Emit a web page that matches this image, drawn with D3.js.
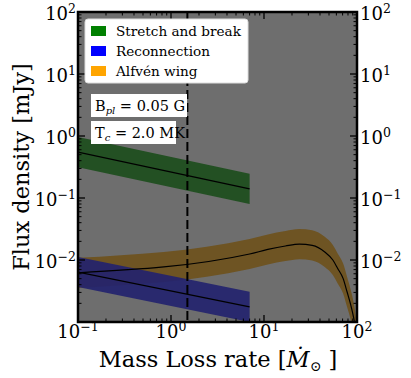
<!DOCTYPE html>
<html>
<head>
<meta charset="utf-8">
<script src="https://cdn.jsdelivr.net/npm/d3@7"></script>
<style>
  body { margin: 0; background: #fff; }
  svg text { font-family: "DejaVu Serif", serif; fill: #000; }
</style>
</head>
<body>
<svg id="chart"></svg>
<script>
// values
const stretchX = [0.1, 7];
const stretchY = [0.55, 0.14];
const reconX = [0.1, 7];
const reconY = [0.0064, 0.00175];
const alfvenX = [0.1, 7, 11, 17, 24, 33, 45, 55, 62, 71, 78, 88, 95, 100];
const alfvenY = [0.0062, 0.0125, 0.0148, 0.0168, 0.018, 0.0172, 0.0135, 0.0100, 0.0073, 0.0050, 0.0031, 0.0016, 0.0009, 0.0005];
const bandFactor = 1.75;
const dashX = 1.5;
const xTicks = [0.1, 1, 10, 100];
const xTickExp = ['−1', '0', '1', '2'];
const yTicks = [0.01, 0.1, 1, 10, 100];
const yTickExp = ['−2', '−1', '0', '1', '2'];
const legendItems = ['Stretch and break', 'Reconnection', 'Alfvén wing'];
const legendColors = ['#008000', '#0000ff', '#ffa500'];

const width = 411, height = 378;
const pLeft = 78, pRight = 357, pTop = 12, pBottom = 322;

const svg = d3.select('#chart')
  .attr('width', width)
  .attr('height', height);

const x = d3.scaleLog().domain([0.1, 100]).range([pLeft, pRight]);
const y = d3.scaleLog().domain([1e-3, 1e2]).range([pBottom, pTop]);

svg.append('defs').append('clipPath').attr('id', 'clip')
  .append('rect')
  .attr('x', pLeft).attr('y', pTop)
  .attr('width', pRight - pLeft).attr('height', pBottom - pTop);

svg.append('rect')
  .attr('x', pLeft).attr('y', pTop)
  .attr('width', pRight - pLeft).attr('height', pBottom - pTop)
  .attr('fill', '#6e6e6e');

const plot = svg.append('g').attr('clip-path', 'url(#clip)');

function band(xs, ys, fill, opacity) {
  const pts = xs.map((d, i) => [d, ys[i]]);
  const area = d3.area()
    .x(d => x(d[0]))
    .y0(d => y(d[1] / bandFactor))
    .y1(d => y(d[1] * bandFactor))
    .curve(d3.curveMonotoneX);
  const line = d3.line()
    .x(d => x(d[0]))
    .y(d => y(d[1]))
    .curve(d3.curveMonotoneX);
  plot.append('path').attr('d', area(pts))
    .attr('fill', fill).attr('fill-opacity', opacity);
  return () => plot.append('path').attr('d', line(pts))
    .attr('fill', 'none').attr('stroke', '#000').attr('stroke-width', 1.2);
}

const l1 = band(alfvenX, alfvenY, '#6e5423', 1);
const l2 = band(reconX, reconY, '#23236e', 0.92);
const l3 = band(stretchX, stretchY, '#235023', 1);
l1(); l2(); l3();

plot.append('line')
  .attr('x1', x(dashX)).attr('x2', x(dashX))
  .attr('y1', pTop).attr('y2', pBottom)
  .attr('stroke', '#000').attr('stroke-width', 2)
  .attr('stroke-dasharray', '9,4');

// ticks on all sides, pointing inward
const minor = [];
for (let e = -3; e < 2; e++) for (let k = 2; k < 10; k++) minor.push(k * Math.pow(10, e));
const ticks = svg.append('g').attr('stroke', '#000');
minor.filter(v => v > 0.1 && v < 100).forEach(v => {
  ticks.append('line').attr('x1', x(v)).attr('x2', x(v)).attr('y1', pBottom).attr('y2', pBottom - 3.5);
  ticks.append('line').attr('x1', x(v)).attr('x2', x(v)).attr('y1', pTop).attr('y2', pTop + 3.5);
});
minor.filter(v => v > 1e-3 && v < 100).forEach(v => {
  ticks.append('line').attr('y1', y(v)).attr('y2', y(v)).attr('x1', pLeft).attr('x2', pLeft + 3.5);
  ticks.append('line').attr('y1', y(v)).attr('y2', y(v)).attr('x1', pRight).attr('x2', pRight - 3.5);
});
xTicks.forEach(v => {
  ticks.append('line').attr('x1', x(v)).attr('x2', x(v)).attr('y1', pBottom).attr('y2', pBottom - 7).attr('stroke-width', 1.3);
  ticks.append('line').attr('x1', x(v)).attr('x2', x(v)).attr('y1', pTop).attr('y2', pTop + 7).attr('stroke-width', 1.3);
});
yTicks.concat([1e-3]).forEach(v => {
  ticks.append('line').attr('y1', y(v)).attr('y2', y(v)).attr('x1', pLeft).attr('x2', pLeft + 7).attr('stroke-width', 1.3);
  ticks.append('line').attr('y1', y(v)).attr('y2', y(v)).attr('x1', pRight).attr('x2', pRight - 7).attr('stroke-width', 1.3);
});

svg.append('rect')
  .attr('x', pLeft).attr('y', pTop)
  .attr('width', pRight - pLeft).attr('height', pBottom - pTop)
  .attr('fill', 'none').attr('stroke', '#000').attr('stroke-width', 2.5);

function powLabel(g, px, py, exp, anchor) {
  const t = g.append('text')
    .attr('x', px).attr('y', py)
    .attr('text-anchor', anchor)
    .attr('font-size', 18);
  t.append('tspan').text('10');
  t.append('tspan').attr('font-size', 12.5).attr('dy', -7.5).text(exp);
}

const labels = svg.append('g');
xTicks.forEach((v, i) => powLabel(labels, x(v), 338, xTickExp[i], 'middle'));
yTicks.forEach((v, i) => {
  powLabel(labels, pLeft - 2, y(v) + 8, yTickExp[i], 'end');
  powLabel(labels, pRight + 3, y(v) + 8, yTickExp[i], 'start');
});

// axis titles
const xl = svg.append('text')
  .attr('x', 218).attr('y', 367)
  .attr('text-anchor', 'middle')
  .attr('font-size', 22.5);
xl.append('tspan').text('Mass Loss rate [');
xl.append('tspan').attr('font-style', 'italic').text('Ṁ');
xl.append('tspan').attr('font-size', 14).attr('dy', 4).text('⊙');
xl.append('tspan').attr('dy', -4).text(' ]');

svg.append('text')
  .attr('transform', 'translate(29,' + ((pTop + pBottom) / 2) + ') rotate(-90)')
  .attr('text-anchor', 'middle')
  .attr('font-size', 22.5)
  .text('Flux density [mJy]');

// legend
const lg = svg.append('g');
lg.append('rect')
  .attr('x', 85).attr('y', 19).attr('width', 163).attr('height', 64)
  .attr('rx', 3).attr('fill', '#fff').attr('stroke', '#ddd');
legendItems.forEach((name, i) => {
  const cy = 31 + i * 20;
  lg.append('rect').attr('x', 91).attr('y', cy - 5).attr('width', 15).attr('height', 10)
    .attr('fill', legendColors[i]);
  lg.append('text').attr('x', 116).attr('y', cy + 5)
    .attr('font-size', 13.6).text(name);
});

// parameter boxes
function paramBox(by, w, sym, sub, rest) {
  svg.append('rect').attr('x', 91).attr('y', by).attr('width', w).attr('height', 23)
    .attr('fill', '#fff');
  const t = svg.append('text').attr('x', 95).attr('y', by + 17).attr('font-size', 14.5);
  t.append('tspan').text(sym);
  t.append('tspan').attr('font-size', 10).attr('font-style', 'italic').attr('dy', 3).text(sub);
  t.append('tspan').attr('dy', -3).text(rest);
}
paramBox(94, 96, 'B', 'pl', ' = 0.05 G');
paramBox(121, 85, 'T', 'c', ' = 2.0 MK');
</script>
</body>
</html>
